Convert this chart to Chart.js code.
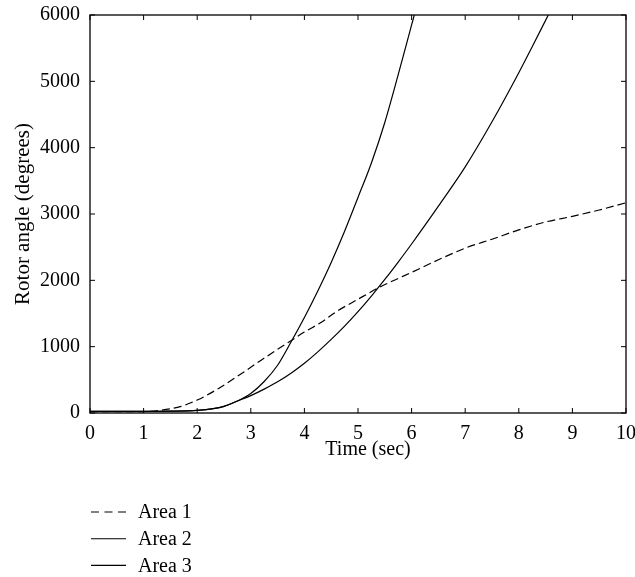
<!DOCTYPE html>
<html>
<head>
<meta charset="utf-8">
<script src="https://cdn.jsdelivr.net/npm/chart.js@4.4.1/dist/chart.umd.min.js"></script>
<style>
  html, body { margin:0; padding:0; background:#fff; }
  #wrap { width:635px; height:577px; }
</style>
</head>
<body>
<div id="wrap"><canvas id="rotor" width="635" height="577"></canvas></div>
<script>
// values
const seriesNames = ["Area 1", "Area 2", "Area 3"];

const area1Time  = [0, 0.5, 1, 1.3, 1.7, 2, 2.4, 2.8, 3.2, 3.5, 3.75, 4, 4.3, 4.6, 5, 5.4, 5.7, 6, 6.5, 7, 7.5, 8, 8.5, 9, 9.5, 10];
const area1Angle = [20, 20, 22, 38, 100, 195, 370, 580, 800, 960, 1090, 1220, 1360, 1530, 1715, 1895, 2010, 2120, 2310, 2485, 2620, 2760, 2880, 2965, 3060, 3170];

const area2Time  = [0, 0.5, 1, 1.5, 2, 2.3, 2.5, 2.75, 3, 3.25, 3.5, 3.75, 4, 4.25, 4.5, 4.75, 5, 5.25, 5.5, 5.75, 6, 6.05];
const area2Angle = [25, 25, 25, 28, 40, 65, 100, 180, 295, 475, 720, 1070, 1440, 1840, 2270, 2740, 3250, 3770, 4380, 5100, 5850, 6000];

const area3Time  = [0, 0.5, 1, 1.5, 2, 2.3, 2.5, 2.75, 3, 3.25, 3.5, 3.75, 4, 4.25, 4.5, 4.75, 5, 5.25, 5.5, 5.75, 6, 6.5, 7, 7.5, 8, 8.25, 8.55];
const area3Angle = [25, 25, 25, 28, 40, 65, 100, 180, 262, 360, 470, 600, 750, 922, 1110, 1310, 1528, 1763, 2013, 2276, 2548, 3118, 3710, 4390, 5130, 5520, 6000];

const xTickLabels = ["0","1","2","3","4","5","6","7","8","9","10"];
const yTickLabels = ["0","1000","2000","3000","4000","5000","6000"];
const xTitle = "Time (sec)";
const yTitle = "Rotor angle (degrees)";

const FAMILY = '"Liberation Serif", "DejaVu Serif", serif';
const FONT = '20px ' + FAMILY;

function pairs(ts, vs){ return ts.map((t,i)=>({x:t, y:vs[i]})); }

// frame with inward ticks on all four sides, axis titles, legend list under the plot
const framePlugin = {
  id: "frame",
  afterDraw(chart){
    const ctx = chart.ctx, a = chart.chartArea;
    const xs = chart.scales.x, ys = chart.scales.y;
    const tl = 5;
    ctx.save();
    ctx.strokeStyle = "#000";
    ctx.lineWidth = 1.3;
    ctx.strokeRect(a.left, a.top, a.right - a.left, a.bottom - a.top);
    ctx.lineWidth = 1;
    ctx.beginPath();
    xTickLabels.forEach((l)=>{
      const px = xs.getPixelForValue(Number(l));
      ctx.moveTo(px, a.bottom); ctx.lineTo(px, a.bottom - tl);
      ctx.moveTo(px, a.top); ctx.lineTo(px, a.top + tl);
    });
    yTickLabels.forEach((l)=>{
      const py = ys.getPixelForValue(Number(l));
      ctx.moveTo(a.left, py); ctx.lineTo(a.left + tl, py);
      ctx.moveTo(a.right, py); ctx.lineTo(a.right - tl, py);
    });
    ctx.stroke();

    ctx.fillStyle = "#000";
    ctx.font = FONT;
    ctx.textAlign = "center";
    ctx.textBaseline = "middle";
    ctx.fillText(xTitle, (a.left + a.right) / 2 + 10, a.bottom + 37);
    ctx.save();
    ctx.translate(23, (a.top + a.bottom) / 2);
    ctx.rotate(-Math.PI / 2);
    ctx.font = '21px ' + FAMILY;
    ctx.fillText(yTitle, 0, 0);
    ctx.restore();

    // legend
    ctx.textAlign = "left";
    chart.data.datasets.forEach((ds, i)=>{
      const y = 512 + i * 26.7;
      ctx.beginPath();
      ctx.setLineDash(ds.borderDash && ds.borderDash.length ? [8, 5.5] : []);
      ctx.lineWidth = 1.1;
      ctx.moveTo(91, y); ctx.lineTo(126, y);
      ctx.stroke();
      ctx.setLineDash([]);
      ctx.fillText(ds.label, 138, y + 1);
    });
    ctx.restore();
  }
};

const lineStyle = { borderColor:"#000", borderWidth:1.2, pointRadius:0, fill:false, cubicInterpolationMode:"monotone" };

new Chart(document.getElementById("rotor").getContext("2d"), {
  type: "line",
  data: {
    datasets: [
      Object.assign({ label: seriesNames[0], data: pairs(area1Time, area1Angle), borderDash:[8,4] }, lineStyle),
      Object.assign({ label: seriesNames[1], data: pairs(area2Time, area2Angle) }, lineStyle),
      Object.assign({ label: seriesNames[2], data: pairs(area3Time, area3Angle) }, lineStyle)
    ]
  },
  options: {
    responsive: false,
    animation: false,
    layout: { padding: { left:0, right:9, top:15, bottom:0 } },
    plugins: { legend: { display:false }, tooltip: { enabled:false } },
    scales: {
      x: {
        type: "linear", min: 0, max: 10,
        afterFit: (s)=>{ s.height = 164; s.paddingLeft = 0; s.paddingRight = 0; },
        grid: { display:false, drawTicks:false },
        border: { display:false },
        ticks: { stepSize:1, padding:9, color:"#000", font:{ family:FAMILY, size:20 },
                 maxRotation:0, callback:(v)=> xTickLabels[Math.round(v)] }
      },
      y: {
        min: 0, max: 6000,
        afterFit: (s)=>{ s.width = 90; s.paddingTop = 0; s.paddingBottom = 0; },
        grid: { display:false, drawTicks:false },
        border: { display:false },
        ticks: { stepSize:1000, padding:10, color:"#000", font:{ family:FAMILY, size:20 },
                 callback:(v)=> yTickLabels[Math.round(v/1000)] }
      }
    }
  },
  plugins: [framePlugin]
});
</script>
</body>
</html>
